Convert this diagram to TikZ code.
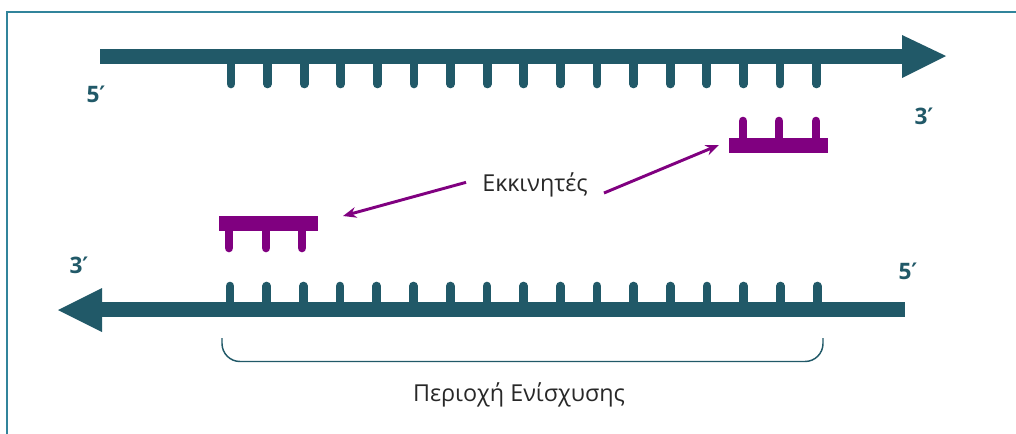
\documentclass[tikz,border=0pt]{standalone}
\usepackage{fontspec}
\setmainfont{Open Sans}
\newfontfamily\primefont{DejaVu Sans}
\usetikzlibrary{arrows.meta}
\definecolor{strand}{RGB}{33,89,104}
\definecolor{frame}{RGB}{49,132,155}
\definecolor{prim}{RGB}{128,0,128}
\definecolor{txt}{RGB}{40,40,40}
\newcommand{\pr}{{\primefont\bfseries ′}}
\tikzset{
  strandbar/.style={strand, line width=11.25pt},
  strandtick/.style={strand, line width=6.5pt, line cap=round},
  primbar/.style={prim, line width=11.25pt},
  primtick/.style={prim, line width=6.5pt, line cap=round},
  endlabel/.style={strand, font=\bfseries\fontsize{17}{20}\selectfont, inner sep=0pt},
  plabel/.style={txt, font=\fontsize{17.5}{21}\selectfont, inner sep=0pt},
  parrow/.style={prim, line width=2.2pt, -{Stealth[length=10pt,width=8pt]}},
  brace/.style={strand, line width=1.1pt, rounded corners=13.5pt},
}
\begin{document}
\begin{tikzpicture}[x=0.75pt,y=-0.75pt]
\useasboundingbox (0,0) rectangle (1016,433);
% frame
\draw[frame, line width=1.6pt] (1020,12) -- (7,12) -- (7,440);
% top strand
\draw[strandbar] (100,56) -- (903,56);
\fill[strand] (902,35) -- (946,56) -- (902,78) -- cycle;
\foreach \i in {0,...,16}{
  \draw[strandtick] ({231+36.6*\i},56) -- ({231+36.6*\i},84);
}
% bottom strand
\draw[strandbar] (101,309.5) -- (905,309.5);
\fill[strand] (102,288) -- (58,310) -- (102,332) -- cycle;
\foreach \i in {0,...,16}{
  \draw[strandtick] ({230+36.7*\i},309.5) -- ({230+36.7*\i},286);
}
% primers
\draw[primbar] (729,145.5) -- (828,145.5);
\foreach \x in {743,779,816}{\draw[primtick] (\x,145.5) -- (\x,121);}
\coordinate (p2) at (719,145);
\draw[primbar] (219,223.5) -- (318,223.5);
\foreach \x in {229,266,302}{\draw[primtick] (\x,223.5) -- (\x,248);}
\coordinate (p1) at (343,216);
% labels
\node[endlabel] (l5a) at (96,94) {5\pr};
\node[endlabel] (l3a) at (924,116) {3\pr};
\node[endlabel] (l3b) at (79,265) {3\pr};
\node[endlabel] (l5b) at (908,271) {5\pr};
% primer label and arrows
\node[plabel, inner xsep=12pt] (E) at (535,185) {Εκκινητές};
\draw[parrow] ([yshift=2pt]E.west) -- (p1);
\draw[parrow] ([yshift=-6pt]E.east) -- (p2);
% brace
\draw[brace] (222,338) -- (222,361.5) -- (823,361.5) -- (823,338);
\node[plabel] (R) at (519,395) {Περιοχή Ενίσχυσης};
\end{tikzpicture}
\end{document}
